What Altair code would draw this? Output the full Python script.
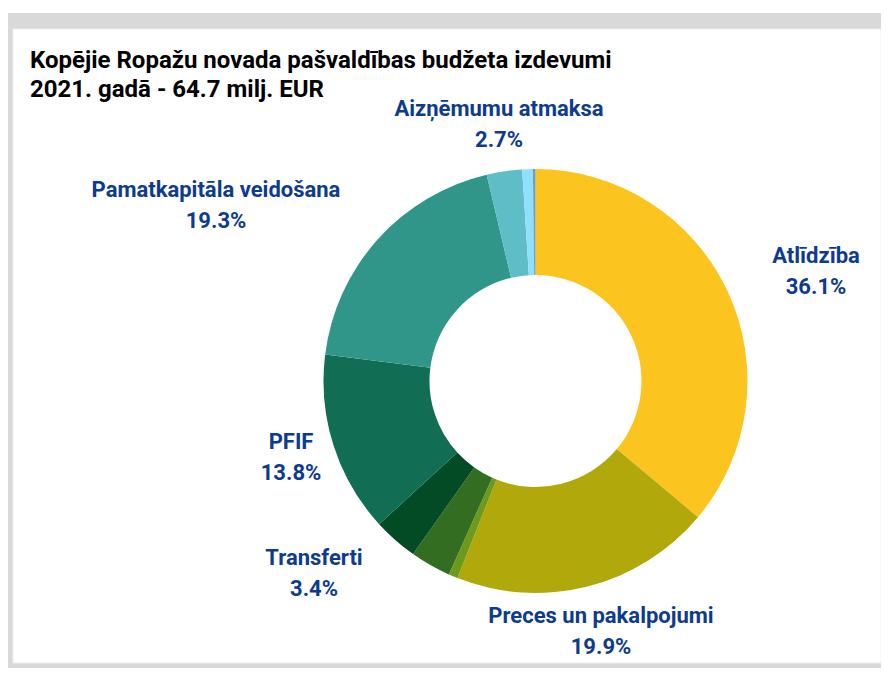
import altair as alt
import pandas as pd

# --- data ---
categories = [
    "Atlīdzība",
    "Preces un pakalpojumi",
    "Subsīdijas un dotācijas",
    "Sociālie pabalsti",
    "Transferti",
    "PFIF",
    "Pamatkapitāla veidošana",
    "Aizņēmumu atmaksa",
    "Procentu izdevumi",
    "Citi",
]
shares = [36.1, 19.9, 0.7, 3.1, 3.4, 13.8, 19.3, 2.7, 0.8, 0.2]
colors = ["#FCC41F", "#B1A90C", "#6E9A1C", "#336D22", "#024B24",
          "#116E54", "#31968A", "#5EBDC6", "#8FE0FA", "#7C9DB0"]

labelled = ["Atlīdzība", "Preces un pakalpojumi", "Transferti", "PFIF",
            "Pamatkapitāla veidošana", "Aizņēmumu atmaksa"]
label_pct = ["36.1%", "19.9%", "3.4%", "13.8%", "19.3%", "2.7%"]
# label block positions (layout, chart pixels; first-line centre)
label_x = [808, 593, 306, 283, 208, 491]
label_y = [248, 608, 550, 434, 182, 101]

title_lines = ["Kopējie Ropažu novada pašvaldības budžeta izdevumi",
               "2021. gadā  - 64.7 milj. EUR"]

W, H = 873, 660
CX, CY = 527.5, 373
R_OUT, R_IN = 212, 106

df = pd.DataFrame({"cat": categories, "value": shares, "idx": list(range(len(categories)))})
lab = pd.DataFrame({
    "txt": [f"{c}\n{p}" for c, p in zip(labelled, label_pct)],
    "lx": label_x, "ly": label_y,
})
tdf = pd.DataFrame({"txt": ["\n".join(title_lines)]})

frame_gray = alt.Chart(pd.DataFrame({"a": [0]})).mark_rect(color="#D9D9D9").encode(
    x=alt.value(0), x2=alt.value(W), y=alt.value(5), y2=alt.value(H)
)
frame_white = alt.Chart(pd.DataFrame({"a": [0]})).mark_rect(
    color="#FFFFFF", stroke="#EEEEEE", strokeWidth=1
).encode(
    x=alt.value(5), x2=alt.value(W), y=alt.value(21), y2=alt.value(H - 5)
)

donut = alt.Chart(df).mark_arc(radius=R_OUT, radius2=R_IN, stroke=None).encode(
    theta=alt.Theta("value:Q", stack=True),
    order=alt.Order("idx:Q"),
    color=alt.Color("cat:N", scale=alt.Scale(domain=categories, range=colors), legend=None),
    x=alt.value(CX),
    y=alt.value(CY),
)

labels = alt.Chart(lab).mark_text(
    font="Roboto", fontSize=22, fontWeight="bold", color="#0D3B8E",
    lineBreak="\n", lineHeight=31, align="center", baseline="middle",
).encode(
    x=alt.X("lx:Q", scale=None),
    y=alt.Y("ly:Q", scale=None),
    text="txt:N",
)

title = alt.Chart(tdf).mark_text(
    font="Roboto", fontSize=24, fontWeight="bold", color="#000000",
    lineBreak="\n", lineHeight=29, align="left", baseline="top",
).encode(
    x=alt.value(22), y=alt.value(41), text="txt:N"
)

chart = alt.layer(frame_gray, frame_white, donut, labels, title).properties(
    width=W, height=H, padding=0, autosize=alt.AutoSizeParams(type="none"),
    background="#FFFFFF",
).configure_view(stroke=None)

chart.save("out.html", embed_options={"renderer": "svg", "actions": False})
